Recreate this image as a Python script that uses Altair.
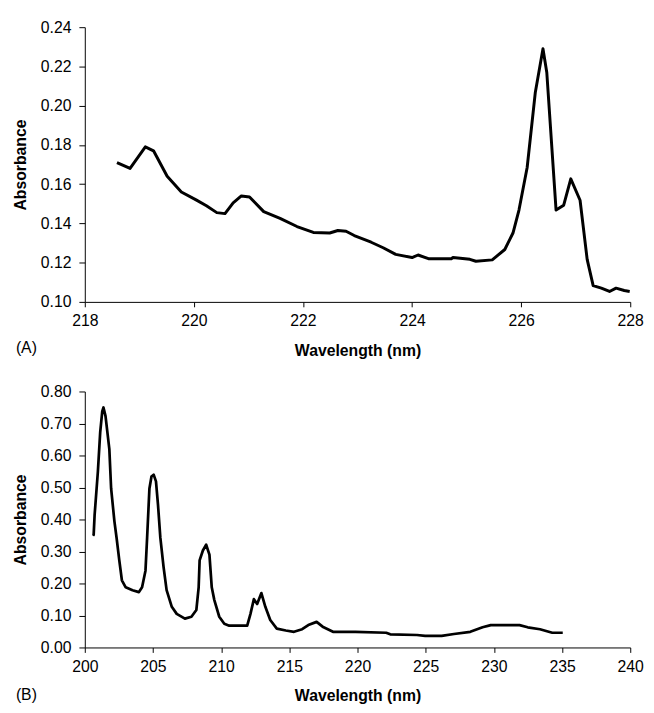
import altair as alt
import pandas as pd

# Panel (A)
wl_a = [218.59, 218.83, 219.11, 219.26, 219.51, 219.77, 220.04, 220.23, 220.42, 220.57,
        220.72, 220.87, 221.02, 221.28, 221.58, 221.89, 222.19, 222.49, 222.64, 222.79,
        222.94, 223.25, 223.47, 223.70, 224.00, 224.11, 224.30, 224.72, 224.75, 225.06,
        225.17, 225.47, 225.70, 225.85, 225.96, 226.11, 226.26, 226.40, 226.47, 226.64,
        226.78, 226.91, 227.08, 227.21, 227.32, 227.47, 227.62, 227.74, 227.89, 227.99]
abs_a = [0.171, 0.168, 0.179, 0.177, 0.164, 0.156, 0.152, 0.149, 0.1455, 0.145,
         0.1505, 0.154, 0.1535, 0.146, 0.1426, 0.1384, 0.1354, 0.1351, 0.1364, 0.136,
         0.1338, 0.1304, 0.1276, 0.1242, 0.1226, 0.1239, 0.122, 0.122, 0.1226, 0.1217,
         0.1207, 0.1214, 0.1267, 0.1351, 0.1468, 0.1685, 0.2069, 0.229, 0.2169, 0.1468,
         0.1493, 0.1627, 0.1518, 0.1217, 0.1083, 0.107, 0.1053, 0.107, 0.1058, 0.1053]

# Panel (B)
wl_b = [200.60, 200.65, 200.72, 200.96, 201.13, 201.28, 201.37, 201.52, 201.80, 201.93,
        202.17, 202.33, 202.53, 202.72, 203.00, 203.50, 203.97, 204.20, 204.45, 204.57,
        204.74, 204.89, 205.05, 205.22, 205.37, 205.54, 205.78, 206.00, 206.38, 206.74,
        207.34, 207.82, 208.18, 208.35, 208.42, 208.66, 208.90, 209.14, 209.31, 209.50,
        209.86, 210.23, 210.59, 211.91, 212.15, 212.40, 212.64, 212.95, 213.24, 213.60,
        214.08, 214.74, 215.34, 215.94, 216.39, 217.00, 217.44, 218.20, 219.85, 222.10,
        222.40, 224.36, 224.96, 226.17, 227.07, 228.27, 229.17, 229.77, 231.88, 232.48,
        233.38, 234.28, 235.05]
abs_b = [0.349, 0.352, 0.414, 0.550, 0.673, 0.738, 0.750, 0.723, 0.620, 0.497,
         0.395, 0.343, 0.272, 0.210, 0.188, 0.179, 0.173, 0.188, 0.240, 0.343,
         0.497, 0.534, 0.540, 0.519, 0.445, 0.343, 0.250, 0.179, 0.127, 0.105,
         0.090, 0.096, 0.117, 0.188, 0.272, 0.303, 0.321, 0.290, 0.188, 0.148,
         0.096, 0.074, 0.068, 0.068, 0.105, 0.151, 0.136, 0.170, 0.127, 0.086,
         0.059, 0.053, 0.049, 0.057, 0.070, 0.080, 0.065, 0.049, 0.049, 0.046,
         0.041, 0.039, 0.036, 0.036, 0.042, 0.049, 0.063, 0.070, 0.070, 0.063,
         0.057, 0.046, 0.046]

xticks_a = [218, 220, 222, 224, 226, 228]
yticks_a = [0.10, 0.12, 0.14, 0.16, 0.18, 0.20, 0.22, 0.24]
xticks_b = [200, 205, 210, 215, 220, 225, 230, 235, 240]
yticks_b = [0.00, 0.10, 0.20, 0.30, 0.40, 0.50, 0.60, 0.70, 0.80]

FONT = "Liberation Sans"
W = 554
HA = 279
HB = 260


def panel(wl, ab, xdom, ydom, xt, yt, h, label, sw, loff):
    df = pd.DataFrame({"wl": wl, "abs": ab})
    line = alt.Chart(df).mark_line(color="black", strokeWidth=sw, strokeJoin="round").encode(
        x=alt.X("wl:Q", scale=alt.Scale(domain=xdom, nice=False, zero=False),
                axis=alt.Axis(values=xt, format="d", title="Wavelength (nm)")),
        y=alt.Y("abs:Q", scale=alt.Scale(domain=ydom, nice=False, zero=False),
                axis=alt.Axis(values=yt, format=".2f", title="Absorbance")),
    )
    lab = alt.Chart(pd.DataFrame({"t": [label]})).mark_text(
        align="left", baseline="middle", fontSize=16, font=FONT, color="black"
    ).encode(text="t:N", x=alt.value(-70), y=alt.value(h + loff))
    return alt.layer(line, lab).properties(width=W, height=h)


a = panel(wl_a, abs_a, [218, 228], [0.10, 0.24], xticks_a, yticks_a, HA, "(A)", 3, 47)
b = panel(wl_b, abs_b, [200, 240], [0.0, 0.8], xticks_b, yticks_b, HB, "(B)", 2.75, 48)

chart = alt.vconcat(a, b, spacing=26).properties(
    padding={"left": 4, "top": 6, "right": 2, "bottom": 0}
).configure_view(stroke=None).configure_axis(
    grid=False,
    domainColor="black",
    tickColor="black",
    labelColor="black",
    titleColor="black",
    labelFont=FONT,
    titleFont=FONT,
    labelFontSize=16,
    titleFontSize=16,
    titleFontWeight="bold",
    labelFlush=False,
    labelOverlap=False,
).configure_axisX(
    tickSize=5, labelPadding=6, titlePadding=14
).configure_axisY(
    tickSize=6, labelPadding=8, titlePadding=12
)

chart.save("out.html", embed_options={"renderer": "svg", "actions": False})
